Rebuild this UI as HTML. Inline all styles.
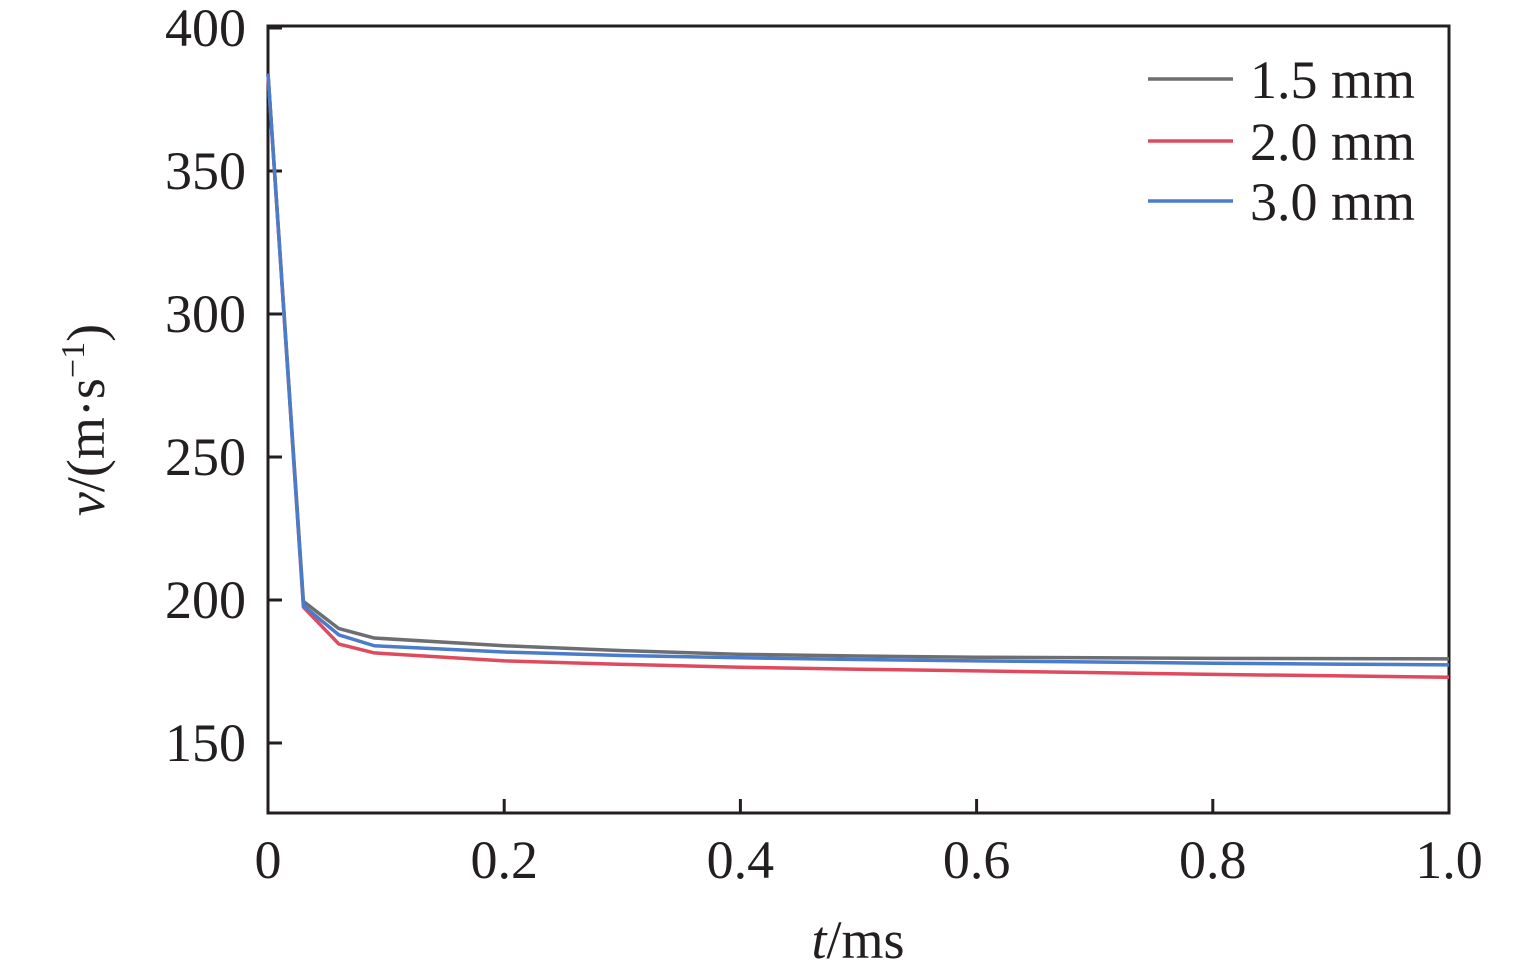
<!DOCTYPE html>
<html><head><meta charset="utf-8"><style>
body{margin:0;background:#fff}
svg{display:block;font-family:"Liberation Serif",serif}
</style></head><body>
<svg id="c" width="1535" height="976">
<rect x="268" y="26" width="1181" height="787" fill="none" stroke="#231f20" stroke-width="3"/>
<g id="ticks"></g><g id="lines"></g>
<text x="104" y="420" font-size="54" text-anchor="middle" transform="rotate(-90 104 420)" fill="#231f20"><tspan font-style="italic">v</tspan>/(m·s<tspan font-size="34" dy="-20">−1</tspan><tspan dy="20">)</tspan></text>
<text x="858" y="958" font-size="54" text-anchor="middle" fill="#231f20"><tspan font-style="italic">t</tspan>/ms</text>
<g id="legend"></g>
</svg>
<script>
const xs=[0,0.03,0.06,0.09,0.2,0.3,0.4,0.5,0.6,0.7,0.8,0.9,1.0];
const s15=[384,199.5,190,186.7,184,182.3,181,180.4,180,179.8,179.6,179.5,179.4];
const s20=[384,197.5,184.6,181.5,178.7,177.5,176.5,175.8,175.2,174.6,174,173.5,173];
const s30=[384,198,187.8,184,181.8,180.6,179.8,179.2,178.7,178.3,177.9,177.6,177.3];
const names=["1.5 mm","2.0 mm","3.0 mm"];
const colors=["#6d6e71","#e04a5f","#4a7cc9"];
const xTicks=[0,0.2,0.4,0.6,0.8,1.0];
const xTickLabels=["0","0.2","0.4","0.6","0.8","1.0"];
const yTicks=[150,200,250,300,350,400];
const X=v=>268+v*1181;
const Y=v=>743-(v-150)*2.86;
const ns="http://www.w3.org/2000/svg";
function mk(t,a,p){const e=document.createElementNS(ns,t);for(const k in a)e.setAttribute(k,a[k]);p.appendChild(e);return e;}
const T=document.getElementById('ticks');
xTicks.forEach((v,i)=>{
 if(i>0&&i<xTicks.length-1){const l=mk('line',{x1:X(v),x2:X(v),y1:813,y2:799,stroke:'#231f20','stroke-width':3},T);
 
 }
 const t=mk('text',{x:X(v),y:878,'font-size':54,'text-anchor':'middle',fill:'#231f20'},T);t.textContent=xTickLabels[i];
 
 
});
yTicks.forEach(v=>{
 const l=mk('line',{x1:268,x2:282,y1:Y(v),y2:Y(v),stroke:'#231f20','stroke-width':3},T);
 
 
 const t=mk('text',{x:246,y:Y(v)+18,'font-size':54,'text-anchor':'end',fill:'#231f20'},T);t.textContent=v;
 
 
});
const L=document.getElementById('lines');
[s15,s20,s30].forEach((s,i)=>{
 const p=mk('polyline',{points:xs.map((x,j)=>X(x)+','+Y(s[j])).join(' '),fill:'none',stroke:colors[i],'stroke-width':3.5,'stroke-linejoin':'round'},L);
 
 
});
const G=document.getElementById('legend');
names.forEach((n,i)=>{
 const y=[79,141,201][i];
 const l=mk('line',{x1:1148,x2:1233,y1:y,y2:y,stroke:colors[i],'stroke-width':3.5},G);
 
 
 const t=mk('text',{x:1250,y:y+19,'font-size':54,fill:'#231f20'},G);t.textContent=n;
 
 
});
</script>
</body></html>
